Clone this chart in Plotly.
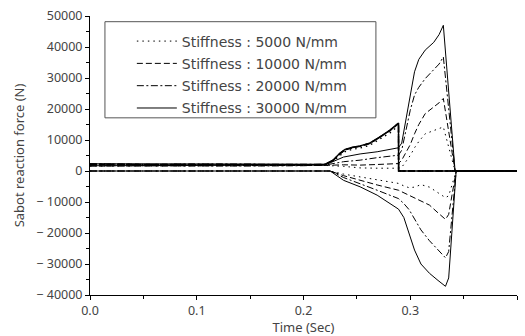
import plotly.graph_objects as go

# ---------------- data ----------------
labels = ["Stiffness : 5000 N/mm", "Stiffness : 10000 N/mm",
          "Stiffness : 20000 N/mm", "Stiffness : 30000 N/mm"]

# upper envelope (sabot piece A)
t_env = [0.0, 0.05, 0.10, 0.15, 0.20, 0.22, 0.228, 0.234, 0.239, 0.246, 0.253,
         0.262, 0.272, 0.281, 0.289, 0.2891, 0.4]
env_5000 = [2100, 2000, 2100, 2000, 2000, 2100, 3300, 5000, 6300, 7000, 7400,
            8300, 10300, 12300, 14600, 0, 0]
env_10000 = [2200, 2100, 2100, 2100, 2000, 2100, 3500, 5500, 6800, 7500, 8000,
             8900, 11000, 13000, 15300, 0, 0]
env_20000 = [2300, 2100, 2200, 2100, 2100, 2100, 3500, 5600, 6900, 7600, 8000,
             8900, 11000, 13100, 15400, 0, 0]
env_30000 = [2300, 2200, 2200, 2200, 2100, 2100, 3600, 5700, 7000, 7700, 8100,
             9000, 11100, 13200, 15500, 0, 0]

# upper inner (sabot piece B)
t_up = [0.0, 0.05, 0.10, 0.15, 0.20, 0.22, 0.2375, 0.253, 0.269, 0.289,
        0.292, 0.296, 0.300, 0.304, 0.308, 0.314, 0.322, 0.327, 0.331, 0.342, 0.4]
up_5000 = [1600, 1600, 1600, 1600, 1600, 1800, 1500, 1000, 900, 900,
           1200, 3000, 5000, 7500, 9500, 12000, 13200, 13700, 14200, 0, 0]
up_10000 = [1600, 1600, 1600, 1600, 1600, 1800, 2000, 1900, 2100, 2400,
            3500, 6000, 8500, 12000, 15000, 18500, 20500, 22000, 23400, 0, 0]
up_20000 = [1700, 1600, 1700, 1600, 1700, 1900, 3000, 3500, 4300, 5100,
            6700, 13000, 19600, 24500, 27000, 29800, 32500, 34500, 36800, 0, 0]
up_30000 = [1700, 1700, 1700, 1700, 1700, 1900, 4500, 5500, 6200, 7500,
            9000, 17000, 25000, 32000, 36000, 39000, 41500, 44000, 47000, 0, 0]

# lower (sabot piece C)
t_lo = [0.0, 0.05, 0.10, 0.15, 0.20, 0.225, 0.2375, 0.253, 0.269, 0.289,
        0.294, 0.299, 0.304, 0.310, 0.318, 0.326, 0.333, 0.336, 0.343, 0.4]
lo_5000 = [0, 0, 0, 0, 0, 0, -1000, -1900, -3000, -4000,
           -4800, -5400, -5200, -4400, -5200, -7000, -8600, -8000, 0, 0]
lo_10000 = [0, 0, 0, 0, 0, 0, -1500, -3000, -4500, -6200,
            -7000, -7800, -8600, -9600, -11000, -13500, -15600, -14000, 0, 0]
lo_20000 = [0, 0, 0, 0, 0, 0, -2100, -4000, -6200, -8900,
            -10500, -12500, -15500, -19000, -22500, -25500, -28000, -26000, 0, 0]
lo_30000 = [0, 0, 0, 0, 0, 0, -3000, -5100, -7800, -12300,
            -15000, -20000, -25500, -30000, -33000, -35300, -37200, -34500, 0, 0]

y_tickvals = [50000, 40000, 30000, 20000, 10000, 0, -10000, -20000, -30000, -40000]
y_ticktext = ["50000", "40000", "30000", "20000", "10000", "0",
              "\u2212 10000", "\u2212 20000", "\u2212 30000", "\u2212 40000"]

# ---------------- figure ----------------
dashes = ["1.5px,4px", "6px,3px", "7px,2.5px,2px,2.5px", "solid"]
envs = [env_5000, env_10000, env_20000, env_30000]
ups = [up_5000, up_10000, up_20000, up_30000]
los = [lo_5000, lo_10000, lo_20000, lo_30000]

fig = go.Figure()
for i, lab in enumerate(labels):
    fig.add_trace(go.Scatter(x=t_up, y=ups[i], mode="lines", name=lab,
                             legendgroup=lab, showlegend=True,
                             line=dict(color="black", width=1, dash=dashes[i])))
    fig.add_trace(go.Scatter(x=t_env, y=envs[i], mode="lines", name=lab,
                             legendgroup=lab, showlegend=False,
                             line=dict(color="black", width=1.4, dash=dashes[i])))
    fig.add_trace(go.Scatter(x=t_lo, y=los[i], mode="lines", name=lab,
                             legendgroup=lab, showlegend=False,
                             line=dict(color="black", width=1, dash=dashes[i])))

txt = "#444444"
fnt = "Noto Sans, DejaVu Sans, sans-serif"

fig.update_layout(
    width=525, height=336,
    margin=dict(l=90, r=8, t=16, b=41, pad=0),
    paper_bgcolor="white", plot_bgcolor="white",
    font=dict(family=fnt, size=12, color=txt),
    showlegend=True,
    legend=dict(x=0.098, y=0.966, xanchor="left", yanchor="top",
                bgcolor="rgba(0,0,0,0)", borderwidth=0,
                font=dict(family="DejaVu Sans, sans-serif", size=14, color=txt),
                itemwidth=40, tracegroupgap=1.1),
    shapes=[dict(type="rect", xref="paper", yref="paper",
                 x0=0.035, x1=0.6696, y0=0.635, y1=0.9796,
                 line=dict(color="#555555", width=1))],
    xaxis=dict(range=[0, 0.4], tickvals=[0.0, 0.1, 0.2, 0.3, 0.4],
               tickformat=".1f", ticks="outside", ticklen=4, tickwidth=1,
               tickcolor="black", showline=True, linecolor="black", linewidth=1,
               showgrid=False, zeroline=False, automargin=False,
               minor=dict(dtick=0.05, ticks="outside", ticklen=3, tickcolor="black",
                          showgrid=False),
               title=dict(text="Time (Sec)", font=dict(size=13, color=txt),
                          standoff=2),
               tickfont=dict(size=12.5, color=txt)),
    yaxis=dict(range=[-40000, 50000], tickvals=y_tickvals, ticktext=y_ticktext,
               ticks="outside", ticklen=4, tickwidth=1, tickcolor="black",
               showline=True, linecolor="black", linewidth=1,
               showgrid=False, zeroline=False, automargin=False,
               minor=dict(dtick=5000, ticks="outside", ticklen=3, tickcolor="black",
                          showgrid=False),
               title=dict(text="Sabot reaction force (N)",
                          font=dict(size=13, color=txt), standoff=8),
               tickfont=dict(size=12.5, color=txt)),
)

fig.write_html("out.html")
